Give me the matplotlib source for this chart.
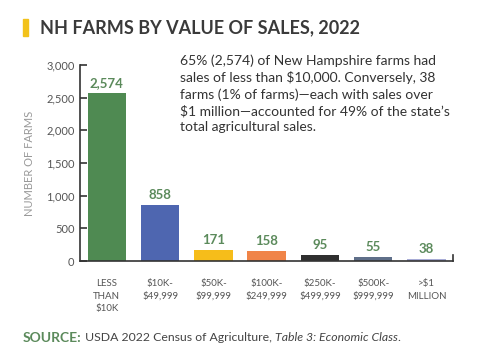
import matplotlib
matplotlib.use("Agg")
import matplotlib.pyplot as plt
from matplotlib.patches import Rectangle

plt.rcParams["font.family"] = ["Lato", "DejaVu Sans"]

# données
categories = ["LESS\nTHAN\n$10K", "$10K-\n$49,999", "$50K-\n$99,999", "$100K-\n$249,999",
              "$250K-\n$499,999", "$500K-\n$999,999", ">$1\nMILLION"]
farms = [2574, 858, 171, 158, 95, 55, 38]
colors = ["#4f8a52", "#4e66b0", "#f6bd1a", "#f08448", "#2f2f2f", "#5f6f89", "#a8acd6"]
yticks = [0, 500, 1000, 1500, 2000, 2500, 3000]

fig = plt.figure(figsize=(4.8, 3.61), dpi=100)
ax = fig.add_axes([0.167, 0.277, 0.777, 0.543])

x = range(len(farms))
ax.bar(x, farms, width=0.72, color=colors, zorder=2)
for i, v in enumerate(farms):
    ax.text(i, v + 60, f"{v:,}", ha="center", va="bottom", fontsize=9.5,
            fontweight="bold", color="#5b8a5b")

ax.set_xlim(-0.5, len(farms) - 0.5)
ax.set_ylim(0, 3000)
ax.set_yticks(yticks)
ax.set_yticklabels([f"{t:,}" for t in yticks], fontsize=8, color="#555555")
ax.set_xticks(list(x))
ax.set_xticklabels(categories, fontsize=7, color="#555555", linespacing=1.5)
ax.tick_params(axis="x", length=0, pad=13)
ax.tick_params(axis="y", length=5, width=1.2, color="#333333", direction="in", pad=4)
ax.set_ylabel("NUMBER OF FARMS", fontsize=8, color="#999999", labelpad=8)
for s in ["top", "right"]:
    ax.spines[s].set_visible(False)
for s in ["left", "bottom"]:
    ax.spines[s].set_color("#333333")
    ax.spines[s].set_linewidth(1.2)
# petite marque à droite
ax.plot([1, 1], [0, 0.03], transform=ax.transAxes, color="#333333", lw=1.2, clip_on=False)

# titre
fig.patches.append(Rectangle((0.048, 0.9), 0.011, 0.048, transform=fig.transFigure,
                             color="#f2c21b"))
fig.text(0.083, 0.924, "NH FARMS BY VALUE OF SALES, 2022", fontsize=13,
         fontweight="bold", color="#3a3a3a", va="center")

# annotation
fig.text(0.376, 0.848,
         "65% (2,574) of New Hampshire farms had\nsales of less than $10,000. Conversely, 38\n"
         "farms (1% of farms)\u2014each with sales over\n$1 million\u2014accounted for 49% of the state\u2019s\n"
         "total agricultural sales.",
         fontsize=10, color="#333333", va="top", linespacing=1.36)

# source, morceaux placés les uns après les autres
pieces = [("SOURCE:", "bold", "normal", "#5b8a5b", 10),
          (" USDA 2022 Census of Agriculture, ", "normal", "normal", "#444444", 8.8),
          ("Table 3: Economic Class", "normal", "italic", "#444444", 8.8),
          (".", "normal", "normal", "#444444", 8.8)]
renderer = fig.canvas.get_renderer()
xpos = 0.048
for txt, w, st, c, fs in pieces:
    t = fig.text(xpos, 0.064, txt, fontsize=fs, fontweight=w, style=st, color=c, va="center")
    bb = t.get_window_extent(renderer=renderer)
    xpos += bb.width / fig.bbox.width

fig.savefig("out.png", dpi=100)
